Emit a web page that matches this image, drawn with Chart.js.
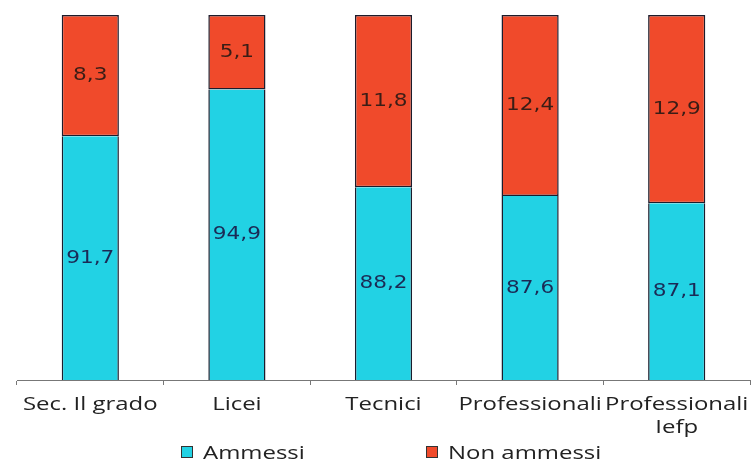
<!DOCTYPE html>
<html>
<head>
<meta charset="utf-8">
<script src="https://cdn.jsdelivr.net/npm/chart.js@4"></script>
<style>
  html, body { margin:0; padding:0; background:#fff; }
  #wrap { position:relative; width:754px; height:461px; }
  #legend { position:absolute; top:440px; left:0; width:754px; height:21px;
            font-family:"Open Sans", sans-serif; font-size:18px; color:#222; }
  #legend .box { position:absolute; top:6px; width:12px; height:12px; border:1.5px solid #333; box-sizing:border-box; }
  #legend .txt { position:absolute; top:0; line-height:24px; white-space:nowrap;
                 transform:scaleX(1.33); transform-origin:0 0; }
</style>
</head>
<body>
<div id="wrap">
  <canvas id="chart" width="754" height="461"></canvas>
  <div id="legend"></div>
</div>
<script>
// categories and values
const categories = ['Sec. Il grado', 'Licei', 'Tecnici', 'Professionali', ['Professionali', 'Iefp']];
const ammessi    = [91.7, 94.9, 88.2, 87.6, 87.1];
const nonAmmessi = [8.3, 5.1, 11.8, 12.4, 12.9];
const seriesNames = ['Ammessi', 'Non ammessi'];

const CYAN = '#22d2e4';
const RED  = '#f04a2b';
const STRETCH = 1.33; // the original text is drawn wide

// draws the value in the middle of each visible segment
const valueLabels = {
  id: 'valueLabels',
  afterDatasetsDraw(chart) {
    const { ctx, chartArea } = chart;
    ctx.save();
    ctx.font = '18px "DejaVu Sans", Verdana, sans-serif';
    ctx.textAlign = 'center';
    ctx.textBaseline = 'middle';
    chart.data.datasets.forEach((ds, i) => {
      const meta = chart.getDatasetMeta(i);
      ctx.fillStyle = i === 0 ? '#1b2a55' : '#3a1d16';
      meta.data.forEach((el, j) => {
        const top = Math.max(Math.min(el.y, chartArea.bottom), chartArea.top);
        const bot = Math.max(Math.min(el.base, chartArea.bottom), chartArea.top);
        const txt = ds.data[j].toFixed(1).replace('.', ',');
        ctx.save();
        ctx.translate(el.x, (top + bot) / 2);
        ctx.scale(1.2, 1);
        ctx.fillText(txt, 0, 0);
        ctx.restore();
      });
    });
    ctx.restore();
  }
};

// category labels, placed with the x scale but stretched like the original
const wideTicks = {
  id: 'wideTicks',
  afterDraw(chart) {
    const { ctx } = chart;
    const x = chart.scales.x;
    ctx.save();
    ctx.font = '18px "Open Sans", sans-serif';
    ctx.fillStyle = '#222';
    ctx.textAlign = 'center';
    ctx.textBaseline = 'alphabetic';
    chart.data.labels.forEach((lab, i) => {
      const lines = Array.isArray(lab) ? lab : [lab];
      const px = x.getPixelForTick(i);
      lines.forEach((ln, k) => {
        ctx.save();
        ctx.translate(px, x.top + 30 + k * 23);
        ctx.scale(STRETCH, 1);
        ctx.fillText(ln, 0, 0);
        ctx.restore();
      });
    });
    ctx.restore();
  }
};

const chart = new Chart(document.getElementById('chart'), {
  type: 'bar',
  data: {
    labels: categories,
    datasets: [
      { label: seriesNames[0], data: ammessi, backgroundColor: CYAN, borderColor: '#1c1c2c', borderWidth: 1.5, borderSkipped: 'top' },
      { label: seriesNames[1], data: nonAmmessi, backgroundColor: RED, borderColor: '#1c1c2c', borderWidth: 1.5, borderSkipped: false }
    ]
  },
  options: {
    responsive: false,
    animation: false,
    layout: { padding: { left: 17, right: 4, top: 15, bottom: 76 } },
    datasets: { bar: { barPercentage: 0.39, categoryPercentage: 1 } },
    scales: {
      x: {
        stacked: true,
        grid: { display: true, drawOnChartArea: false, drawTicks: true, tickLength: 5, color: '#777', offset: true },
        border: { display: true, color: '#777', width: 1 },
        ticks: { display: false, autoSkip: false }
      },
      y: { stacked: true, display: false, min: 75, max: 100 }
    },
    plugins: {
      legend: { display: false },
      tooltip: { enabled: false }
    }
  },
  plugins: [valueLabels, wideTicks]
});

// legend as html text, positioned like the original
const legendPos = [181, 426];
const legendEl = document.getElementById('legend');
chart.data.datasets.forEach((ds, i) => {
  const box = document.createElement('span');
  box.className = 'box';
  box.style.left = legendPos[i] + 'px';
  box.style.background = ds.backgroundColor;
  legendEl.appendChild(box);
  const txt = document.createElement('span');
  txt.className = 'txt';
  txt.style.left = (legendPos[i] + 22) + 'px';
  txt.textContent = ds.label;
  legendEl.appendChild(txt);
});
</script>
</body>
</html>
